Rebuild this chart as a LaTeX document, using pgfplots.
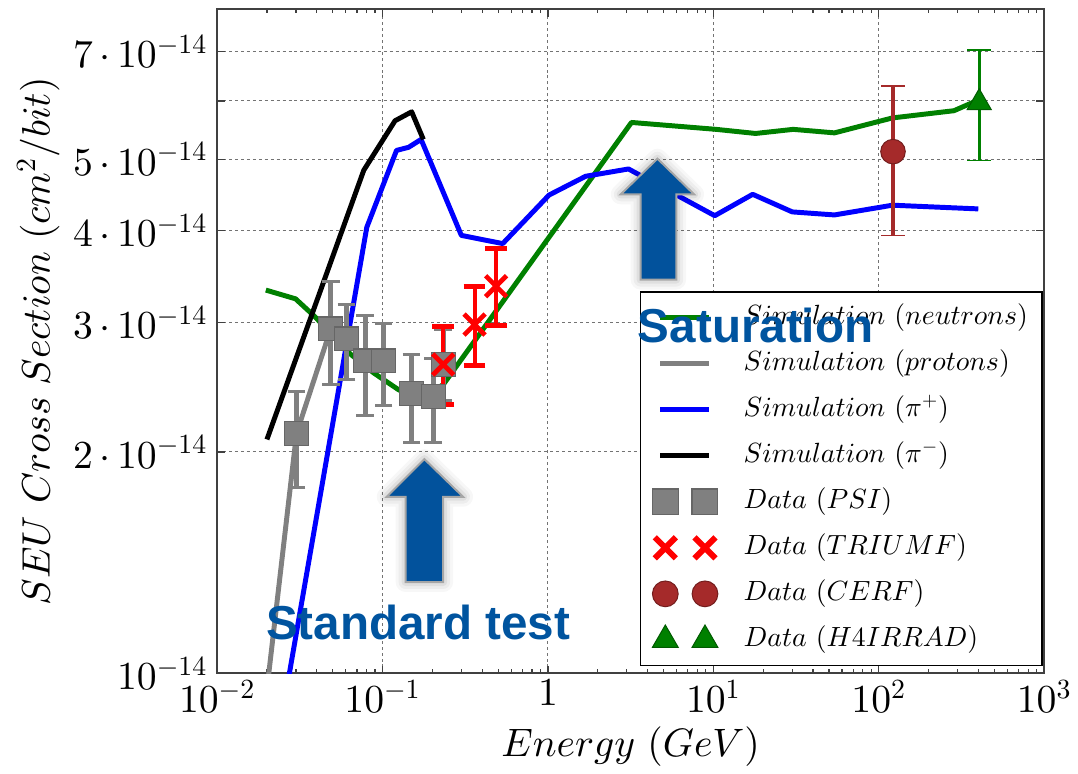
\documentclass[border=0pt]{standalone}
\usepackage{fontspec}
\usepackage{pgfplots}
\pgfplotsset{compat=1.18}
\newfontfamily\annotfont{Liberation Sans}
% scalable Computer Modern math at any size
\DeclareFontShape{OML}{cmm}{m}{it}{<->cmmi10}{}
\DeclareFontShape{OT1}{cmr}{m}{n}{<->cmr10}{}
\DeclareFontShape{OMS}{cmsy}{m}{n}{<->cmsy10}{}

\definecolor{simgreen}{RGB}{0,128,0}
\definecolor{psigray}{RGB}{128,128,128}
\definecolor{cerfbrown}{RGB}{165,42,42}
\definecolor{annotblue}{RGB}{0,84,159}
\definecolor{arrowblue}{RGB}{2,82,156}

\begin{document}
\begin{tikzpicture}
% page frame in pixel units (origin top left, y downwards)
\begin{scope}[x=0.5pt,y=-0.5pt,shift={(-109.5pt,339.5pt)}]
  \path[use as bounding box] (0,0) rectangle (1078,778);
\end{scope}

\begin{axis}[
  at={(0,0)}, anchor=south west,
  scale only axis, width=417pt, height=335pt,
  xmode=log, ymode=log,
  xmin=0.01, xmax=1000, ymin=1e-14, ymax=8e-14,
  xtick={0.01,0.1,1,10,100,1000},
  xticklabels={$10^{-2}$,$10^{-1}$,$1$,$10^{1}$,$10^{2}$,$10^{3}$},
  ytick={1e-14,2e-14,3e-14,4e-14,5e-14,6e-14,7e-14},
  yticklabels={$10^{-14}$,$2\,{\cdot}\,10^{-14}$,$3\,{\cdot}\,10^{-14}$,$4\,{\cdot}\,10^{-14}$,$5\,{\cdot}\,10^{-14}$,{},$7\,{\cdot}\,10^{-14}$},
  yminorticks=false,
  grid=major,
  major grid style={dash pattern=on 1.5pt off 1.5pt, black!55, line width=0.5pt},
  axis line style={black!75, line width=1pt},
  tick style={black!75, line width=0.6pt},
  major tick length=4pt, minor tick length=2pt,
  tick label style={font=\fontsize{20}{24}\selectfont},
  yticklabel style={xshift=-1.5pt},
  every axis x label/.style={at={(rel axis cs:0.5,0)}, anchor=base, yshift=-42pt},
  every axis y label/.style={at={(rel axis cs:0,0.5)}, xshift=-84.5pt, rotate=90, anchor=base},
  label style={font=\fontsize{20}{24}\selectfont},
  xlabel={$Energy\ (GeV)$},
  ylabel={$SEU\ Cross\ Section\ (cm^2/bit)$},
  legend style={
    at={(0.511,0.0105)}, anchor=south west,
    draw=black, line width=0.8pt, fill=white,
    font=\fontsize{14}{16}\selectfont,
    inner xsep=6pt, inner ysep=5.5pt,
    row sep=8.2pt,
    nodes={inner sep=1pt, text height=10pt, text depth=3pt},
    /tikz/every odd column/.append style={column sep=12pt},
  },
  legend cell align=left,
]

% simulated cross sections
\addplot[forget plot, simgreen, line width=2.5pt, line join=round] coordinates {
  (0.0197,3.32e-14) (0.0298,3.23e-14) (0.0387,3.06e-14) (0.0636,2.72e-14)
  (0.0887,2.56e-14) (0.125,2.43e-14) (0.17,2.36e-14) (0.233,2.47e-14)
  (3.2,5.61e-14) (10.4,5.49e-14) (18,5.42e-14) (30.4,5.49e-14)
  (54,5.43e-14) (121,5.69e-14) (285,5.82e-14) (402,6.02e-14)
};
\addplot[forget plot, psigray, line width=2.5pt, line join=round] coordinates {
  (0.0202,0.97e-14) (0.0302,2.12e-14) (0.0486,2.94e-14) (0.0606,2.85e-14)
};
\addplot[forget plot, blue, line width=2.5pt, line join=round] coordinates {
  (0.0267,0.97e-14) (0.0803,4.04e-14) (0.1215,5.14e-14) (0.1437,5.19e-14)
  (0.171,5.32e-14) (0.2997,3.94e-14) (0.533,3.84e-14) (1.016,4.47e-14)
  (1.69,4.74e-14) (3.07,4.85e-14) (10.2,4.19e-14) (17.3,4.48e-14)
  (30,4.24e-14) (54,4.20e-14) (121,4.33e-14) (400,4.28e-14)
};
\addplot[forget plot, black, line width=2.5pt, line join=round] coordinates {
  (0.02,2.08e-14) (0.077,4.83e-14) (0.119,5.64e-14) (0.150,5.80e-14) (0.1765,5.32e-14)
};

% measurements
\addplot[forget plot, only marks, mark=square*, mark size=6pt,
  mark options={fill=psigray, draw=black!60, line width=0.6pt},
  error bars/.cd, y dir=both, y explicit, error mark=|,
  error bar style={line width=2.5pt, color=psigray},
  error mark options={psigray, line width=1.5pt, mark size=4.5pt}]
coordinates {
  (0.0302,2.12e-14) += (0,0.30e-14) -= (0,0.33e-14)
  (0.0486,2.94e-14) += (0,0.47e-14) -= (0,0.47e-14)
  (0.0606,2.85e-14) += (0,0.32e-14) -= (0,0.34e-14)
  (0.0784,2.66e-14) += (0,0.41e-14) -= (0,0.42e-14)
  (0.1014,2.66e-14) += (0,0.33e-14) -= (0,0.35e-14)
  (0.1497,2.40e-14) += (0,0.31e-14) -= (0,0.34e-14)
  (0.2026,2.38e-14) += (0,0.30e-14) -= (0,0.32e-14)
  (0.2327,2.63e-14) += (0,0.30e-14) -= (0,0.28e-14)
};
\addplot[forget plot, only marks, mark=x, mark size=7.5pt,
  mark options={red, line width=2.4pt},
  error bars/.cd, y dir=both, y explicit, error mark=|,
  error bar style={line width=2pt, color=red},
  error mark options={red, line width=2.5pt, mark size=5.5pt}]
coordinates {
  (0.2327,2.63e-14) += (0,0.33e-14) -= (0,0.31e-14)
  (0.360,2.98e-14) += (0,0.38e-14) -= (0,0.36e-14)
  (0.486,3.36e-14) += (0,0.42e-14) -= (0,0.39e-14)
};
\addplot[forget plot, only marks, mark=*, mark size=6.2pt,
  mark options={fill=cerfbrown, draw=cerfbrown!70!black, line width=0.5pt},
  error bars/.cd, y dir=both, y explicit, error mark=|,
  error bar style={line width=2pt, color=cerfbrown},
  error mark options={cerfbrown, line width=0.8pt, mark size=6pt}]
coordinates {
  (122,5.12e-14) += (0,1.17e-14) -= (0,1.18e-14)
};
\addplot[forget plot, only marks, mark=triangle*, mark size=7pt,
  mark options={fill=simgreen, draw=simgreen!70!black, line width=0.5pt},
  error bars/.cd, y dir=both, y explicit, error mark=|,
  error bar style={line width=1.5pt, color=simgreen},
  error mark options={simgreen, line width=0.8pt, mark size=6pt}]
coordinates {
  (405,5.97e-14) += (0,1.07e-14) -= (0,0.99e-14)
};

% legend
\addlegendimage{legend image code/.code={\draw[simgreen, line width=2.5pt] (0pt,0pt) -- (24.5pt,0pt);}}
\addlegendentry{$Simulation\ (neutrons)$}
\addlegendimage{legend image code/.code={\draw[psigray, line width=2.5pt] (0pt,0pt) -- (24.5pt,0pt);}}
\addlegendentry{$Simulation\ (protons)$}
\addlegendimage{legend image code/.code={\draw[blue, line width=2.5pt] (0pt,0pt) -- (24.5pt,0pt);}}
\addlegendentry{$Simulation\ (\pi^+)$}
\addlegendimage{legend image code/.code={\draw[black, line width=2.5pt] (0pt,0pt) -- (24.5pt,0pt);}}
\addlegendentry{$Simulation\ (\pi^-)$}
\addlegendimage{legend image code/.code={\draw[only marks, mark=square*, mark size=6.5pt, mark options={fill=psigray, draw=black!60, line width=0.6pt}] plot coordinates {(2.5pt,0pt) (22.5pt,0pt)};}}
\addlegendentry{$Data\ (PSI)$}
\addlegendimage{legend image code/.code={\draw[only marks, mark=x, mark size=7.5pt, mark options={red, line width=3pt}] plot coordinates {(2.5pt,0pt) (22.5pt,0pt)};}}
\addlegendentry{$Data\ (TRIUMF)$}
\addlegendimage{legend image code/.code={\draw[only marks, mark=*, mark size=6.5pt, mark options={fill=cerfbrown, draw=cerfbrown!70!black, line width=0.5pt}] plot coordinates {(2.5pt,0pt) (22.5pt,0pt)};}}
\addlegendentry{$Data\ (CERF)$}
\addlegendimage{legend image code/.code={\draw[only marks, mark=triangle*, mark size=7.5pt, mark options={fill=simgreen, draw=simgreen!70!black, line width=0.5pt}] plot coordinates {(2.5pt,0pt) (22.5pt,0pt)};}}
\addlegendentry{$Data\ (H4IRRAD)$}
\end{axis}

% annotations
\begin{scope}[x=0.5pt,y=-0.5pt,shift={(-109.5pt,339.5pt)}]
  \foreach \w/\o in {10pt/0.03,7pt/0.04,4pt/0.06} {
    \draw[line width=\w, black, draw opacity=\o, line join=round]
      (428,463) -- (467,501) -- (447,501) -- (447,587) -- (409,587) -- (409,501) -- (390,501) -- cycle;
    \draw[line width=\w, black, draw opacity=\o, line join=round]
      (663,160) -- (700,196) -- (682,196) -- (682,282) -- (646,282) -- (646,196) -- (626,196) -- cycle;
  }
  \draw[fill=arrowblue, draw=black!35, line width=1pt, line join=miter]
    (428,463) -- (467,501) -- (447,501) -- (447,587) -- (409,587) -- (409,501) -- (390,501) -- cycle;
  \draw[fill=arrowblue, draw=black!35, line width=1pt, line join=miter]
    (663,160) -- (700,196) -- (682,196) -- (682,282) -- (646,282) -- (646,196) -- (626,196) -- cycle;
  \node[anchor=base west, inner sep=0pt, text=annotblue, font=\annotfont\bfseries\fontsize{24}{28}\selectfont] at (643,345) {Saturation};
  \node[anchor=base west, inner sep=0pt, text=annotblue, font=\annotfont\bfseries\fontsize{24}{28}\selectfont] at (268,645) {Standard test};
\end{scope}
\end{tikzpicture}
\end{document}
